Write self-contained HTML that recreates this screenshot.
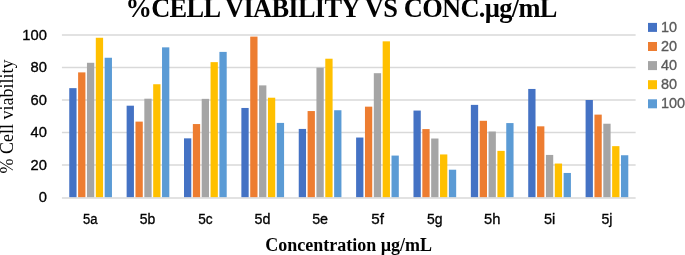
<!DOCTYPE html><html><head><meta charset="utf-8"><style>html,body{margin:0;padding:0;background:#fff;overflow:hidden;}
svg{display:block;}
.t{opacity:0.995}
.s{font-family:"Liberation Sans",sans-serif;font-size:15.2px;stroke-width:0.35px;}
.r{font-family:"Liberation Serif",serif;}
.b{font-weight:bold;}
</style></head><body>
<svg width="685" height="255" viewBox="0 0 685 255">
<rect width="685" height="255" fill="#fff"/>
<line x1="61.92" x2="635.62" y1="165.00" y2="165.00" stroke="#d9d9d9" stroke-width="1.3"/>
<line x1="61.92" x2="635.62" y1="132.50" y2="132.50" stroke="#d9d9d9" stroke-width="1.3"/>
<line x1="61.92" x2="635.62" y1="100.00" y2="100.00" stroke="#d9d9d9" stroke-width="1.3"/>
<line x1="61.92" x2="635.62" y1="67.50" y2="67.50" stroke="#d9d9d9" stroke-width="1.3"/>
<line x1="61.92" x2="635.62" y1="35.00" y2="35.00" stroke="#d9d9d9" stroke-width="1.3"/>
<rect x="69.25" y="88.14" width="7.3" height="109.36" fill="#4472C4"/>
<rect x="78.11" y="72.38" width="7.3" height="125.12" fill="#ED7D31"/>
<rect x="86.95" y="62.79" width="7.3" height="134.71" fill="#A5A5A5"/>
<rect x="95.80" y="37.76" width="7.3" height="159.74" fill="#FFC000"/>
<rect x="104.66" y="57.75" width="7.3" height="139.75" fill="#5B9BD5"/>
<rect x="126.63" y="105.69" width="7.3" height="91.81" fill="#4472C4"/>
<rect x="135.48" y="121.61" width="7.3" height="75.89" fill="#ED7D31"/>
<rect x="144.33" y="98.70" width="7.3" height="98.80" fill="#A5A5A5"/>
<rect x="153.18" y="84.24" width="7.3" height="113.26" fill="#FFC000"/>
<rect x="162.03" y="47.35" width="7.3" height="150.15" fill="#5B9BD5"/>
<rect x="184.00" y="138.35" width="7.3" height="59.15" fill="#4472C4"/>
<rect x="192.85" y="124.05" width="7.3" height="73.45" fill="#ED7D31"/>
<rect x="201.70" y="98.86" width="7.3" height="98.64" fill="#A5A5A5"/>
<rect x="210.55" y="62.14" width="7.3" height="135.36" fill="#FFC000"/>
<rect x="219.40" y="51.90" width="7.3" height="145.60" fill="#5B9BD5"/>
<rect x="241.37" y="107.96" width="7.3" height="89.54" fill="#4472C4"/>
<rect x="250.22" y="36.62" width="7.3" height="160.88" fill="#ED7D31"/>
<rect x="259.07" y="85.38" width="7.3" height="112.12" fill="#A5A5A5"/>
<rect x="267.92" y="97.72" width="7.3" height="99.78" fill="#FFC000"/>
<rect x="276.77" y="122.91" width="7.3" height="74.59" fill="#5B9BD5"/>
<rect x="298.74" y="128.93" width="7.3" height="68.57" fill="#4472C4"/>
<rect x="307.59" y="111.05" width="7.3" height="86.45" fill="#ED7D31"/>
<rect x="316.44" y="67.66" width="7.3" height="129.84" fill="#A5A5A5"/>
<rect x="325.29" y="58.72" width="7.3" height="138.78" fill="#FFC000"/>
<rect x="334.14" y="110.24" width="7.3" height="87.26" fill="#5B9BD5"/>
<rect x="356.11" y="137.54" width="7.3" height="59.96" fill="#4472C4"/>
<rect x="364.96" y="106.66" width="7.3" height="90.84" fill="#ED7D31"/>
<rect x="373.81" y="73.19" width="7.3" height="124.31" fill="#A5A5A5"/>
<rect x="382.66" y="41.34" width="7.3" height="156.16" fill="#FFC000"/>
<rect x="391.51" y="155.57" width="7.3" height="41.93" fill="#5B9BD5"/>
<rect x="413.48" y="110.56" width="7.3" height="86.94" fill="#4472C4"/>
<rect x="422.33" y="129.09" width="7.3" height="68.41" fill="#ED7D31"/>
<rect x="431.18" y="138.51" width="7.3" height="58.99" fill="#A5A5A5"/>
<rect x="440.03" y="154.44" width="7.3" height="43.06" fill="#FFC000"/>
<rect x="448.88" y="169.71" width="7.3" height="27.79" fill="#5B9BD5"/>
<rect x="470.85" y="104.88" width="7.3" height="92.62" fill="#4472C4"/>
<rect x="479.70" y="120.80" width="7.3" height="76.70" fill="#ED7D31"/>
<rect x="488.55" y="131.53" width="7.3" height="65.97" fill="#A5A5A5"/>
<rect x="497.40" y="150.86" width="7.3" height="46.64" fill="#FFC000"/>
<rect x="506.25" y="123.08" width="7.3" height="74.42" fill="#5B9BD5"/>
<rect x="528.22" y="88.95" width="7.3" height="108.55" fill="#4472C4"/>
<rect x="537.07" y="126.33" width="7.3" height="71.17" fill="#ED7D31"/>
<rect x="545.92" y="154.93" width="7.3" height="42.57" fill="#A5A5A5"/>
<rect x="554.77" y="163.54" width="7.3" height="33.96" fill="#FFC000"/>
<rect x="563.62" y="172.96" width="7.3" height="24.54" fill="#5B9BD5"/>
<rect x="585.59" y="100.00" width="7.3" height="97.50" fill="#4472C4"/>
<rect x="594.44" y="114.62" width="7.3" height="82.88" fill="#ED7D31"/>
<rect x="603.29" y="123.72" width="7.3" height="73.78" fill="#A5A5A5"/>
<rect x="612.14" y="146.15" width="7.3" height="51.35" fill="#FFC000"/>
<rect x="620.99" y="155.25" width="7.3" height="42.25" fill="#5B9BD5"/>
<line x1="61.92" x2="635.62" y1="198" y2="198" stroke="#d9d9d9" stroke-width="1.6"/>
<g class="t">
<text class="s" transform="translate(46.9,202.40) scale(0.97,0.985)" text-anchor="end" fill="#000" stroke="#000">0</text>
<text class="s" transform="translate(46.9,169.90) scale(0.97,0.985)" text-anchor="end" fill="#000" stroke="#000">20</text>
<text class="s" transform="translate(46.9,137.40) scale(0.97,0.985)" text-anchor="end" fill="#000" stroke="#000">40</text>
<text class="s" transform="translate(46.9,104.90) scale(0.97,0.985)" text-anchor="end" fill="#000" stroke="#000">60</text>
<text class="s" transform="translate(46.9,72.40) scale(0.97,0.985)" text-anchor="end" fill="#000" stroke="#000">80</text>
<text class="s" transform="translate(46.9,39.90) scale(0.97,0.985)" text-anchor="end" fill="#000" stroke="#000">100</text>
<text class="s" transform="translate(90.20,223.8) scale(0.86,1)" text-anchor="middle" fill="#000" stroke="#000">5a</text>
<text class="s" transform="translate(147.60,223.8) scale(0.92,1)" text-anchor="middle" fill="#000" stroke="#000">5b</text>
<text class="s" transform="translate(205.35,223.8) scale(0.9,1)" text-anchor="middle" fill="#000" stroke="#000">5c</text>
<text class="s" transform="translate(262.45,223.8) scale(0.94,1)" text-anchor="middle" fill="#000" stroke="#000">5d</text>
<text class="s" transform="translate(320.10,223.8) scale(0.94,1)" text-anchor="middle" fill="#000" stroke="#000">5e</text>
<text class="s" transform="translate(377.60,223.8) scale(1.0,1)" text-anchor="middle" fill="#000" stroke="#000">5f</text>
<text class="s" transform="translate(434.75,223.8) scale(0.92,1)" text-anchor="middle" fill="#000" stroke="#000">5g</text>
<text class="s" transform="translate(492.15,223.8) scale(0.97,1)" text-anchor="middle" fill="#000" stroke="#000">5h</text>
<text class="s" transform="translate(549.65,223.8) scale(0.96,1)" text-anchor="middle" fill="#000" stroke="#000">5i</text>
<text class="s" transform="translate(606.95,223.8) scale(0.93,1)" text-anchor="middle" fill="#000" stroke="#000">5j</text>
<text class="r b" x="125.5" y="17.4" font-size="26.4" letter-spacing="-0.68" word-spacing="0.7" fill="#000">%CELL VIABILITY VS CONC.µg/mL</text>
<text class="r b" x="265.2" y="251" font-size="18" fill="#000">Concentration µg/mL</text>
<text class="r" transform="translate(12.6,173.4) rotate(-90)" x="0" y="0" font-size="18" fill="#000">% Cell viability</text>
<text class="s" transform="translate(660.9,31.90) scale(0.95,1)" fill="#595959" stroke="#595959">10</text>
<text class="s" transform="translate(660.9,51.00) scale(0.95,1)" fill="#595959" stroke="#595959">20</text>
<text class="s" transform="translate(660.9,70.10) scale(0.95,1)" fill="#595959" stroke="#595959">40</text>
<text class="s" transform="translate(660.9,89.20) scale(0.95,1)" fill="#595959" stroke="#595959">80</text>
<text class="s" transform="translate(660.9,108.30) scale(0.95,1)" fill="#595959" stroke="#595959">100</text>
</g>
<rect x="648" y="22.90" width="9" height="9" fill="#4472C4"/>
<rect x="648" y="42.00" width="9" height="9" fill="#ED7D31"/>
<rect x="648" y="61.10" width="9" height="9" fill="#A5A5A5"/>
<rect x="648" y="80.20" width="9" height="9" fill="#FFC000"/>
<rect x="648" y="99.30" width="9" height="9" fill="#5B9BD5"/>
</svg></body></html>
